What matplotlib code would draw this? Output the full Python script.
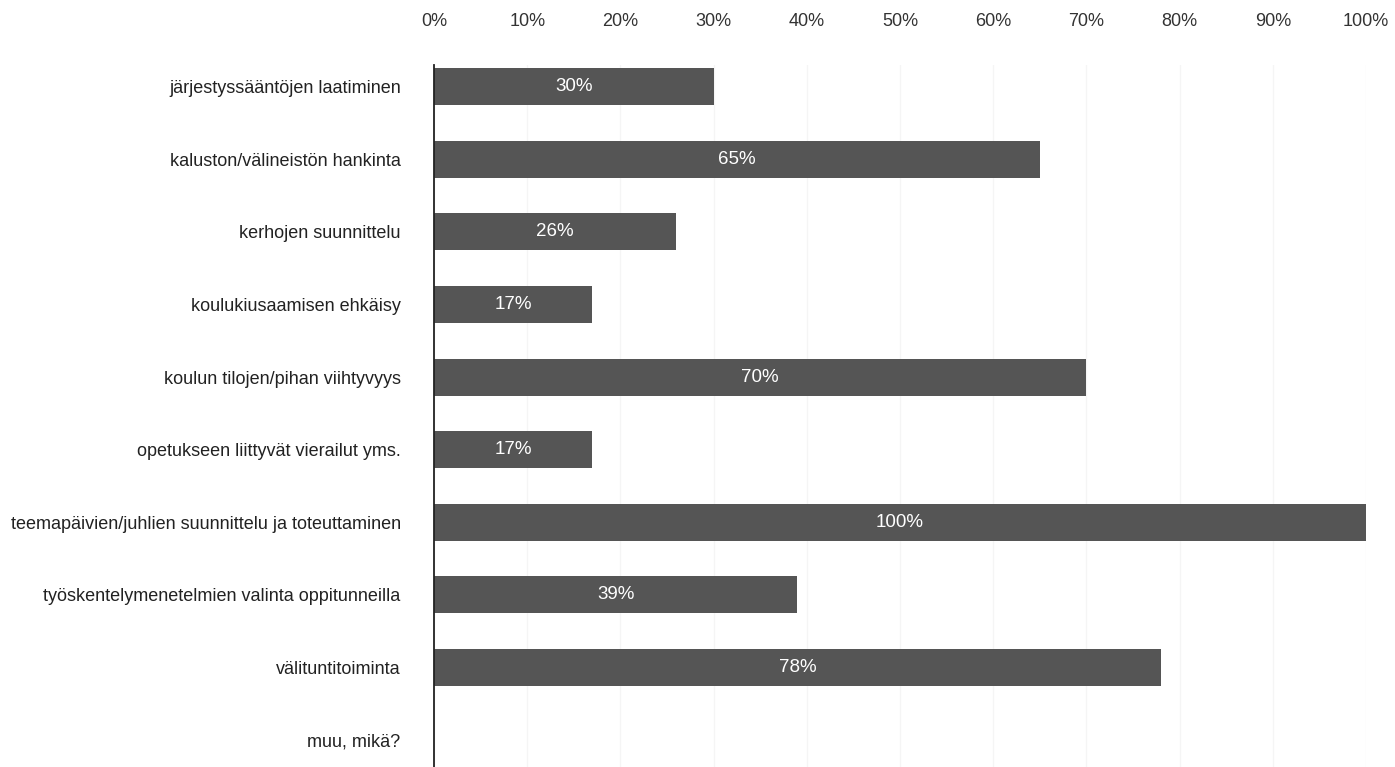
import matplotlib

matplotlib.use('Agg')
import matplotlib.pyplot as plt
import matplotlib.ticker as ticker

categories = [
    'järjestyssääntöjen laatiminen',
    'kaluston/välineistön hankinta',
    'kerhojen suunnittelu',
    'koulukiusaamisen ehkäisy',
    'koulun tilojen/pihan viihtyvyys',
    'opetukseen liittyvät vierailut yms.',
    'teemapäivien/juhlien suunnittelu ja toteuttaminen',
    'työskentelymenetelmien valinta oppitunneilla',
    'välituntitoiminta',
    'muu, mikä?',
]
values = [30, 65, 26, 17, 70, 17, 100, 39, 78, 0]

plt.rcParams['font.family'] = ['Liberation Sans', 'DejaVu Sans']

fig = plt.figure(figsize=(13.95, 7.67), dpi=100)
ax = fig.add_axes([434 / 1395, 0, (1366 - 434) / 1395, 1 - 65 / 767])

positions = list(range(len(categories)))
ax.barh(positions, values, height=0.51, color='#555555', zorder=2)

# percentage labels centred in each bar
for pos, v in zip(positions, values):
    if v > 0:
        ax.text(v / 2, pos, f'{v}%', color='white', ha='center', va='center',
                fontsize=13.5, zorder=3)

ax.set_xlim(0, 100)
ax.set_ylim(9.37, -0.3)
ax.set_yticks(positions)
ax.set_yticklabels(categories, fontsize=13, color='#222222')
ax.xaxis.set_major_locator(ticker.MultipleLocator(10))
ax.xaxis.set_major_formatter(ticker.FuncFormatter(lambda x, p: f'{x:.0f}%'))
ax.xaxis.tick_top()
ax.tick_params(axis='x', length=0, pad=25, labelsize=13, labelcolor='#333333')
ax.tick_params(axis='y', length=0, pad=24)

ax.grid(axis='x', color='#f5f5f5', linewidth=1, zorder=0)
for s in ['top', 'right', 'bottom']:
    ax.spines[s].set_visible(False)
ax.spines['left'].set_color('#222222')
ax.spines['left'].set_linewidth(1.3)
ax.spines['left'].set_zorder(4)

fig.savefig('out.png', dpi=100)
